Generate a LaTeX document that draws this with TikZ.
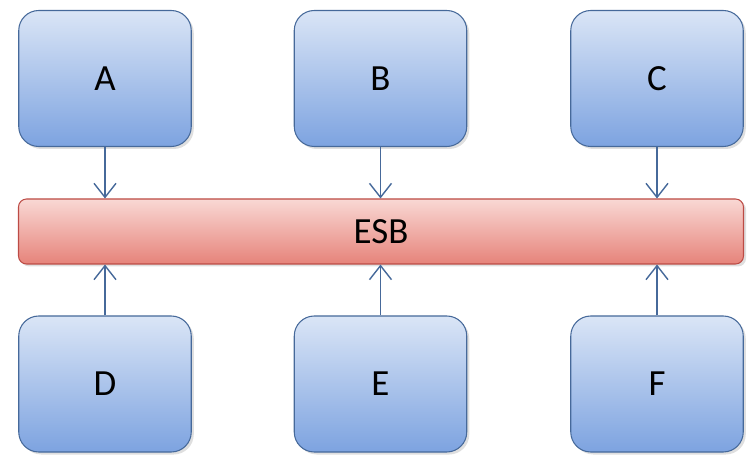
\documentclass[tikz,border=0pt]{standalone}
\usepackage{fontspec}
\setmainfont{Carlito}
\usetikzlibrary{arrows.meta}
\usetikzlibrary{shadows}
\definecolor{systemtop}{HTML}{DAE5F6}
\definecolor{systembottom}{HTML}{7DA3E0}
\definecolor{systemline}{HTML}{46699A}
\definecolor{bustop}{HTML}{F9D8D4}
\definecolor{busbottom}{HTML}{E6837A}
\definecolor{busline}{HTML}{BC4B45}
\definecolor{linkline}{HTML}{46699A}
\tikzstyle{system}=[draw=systemline, semithick, rounded corners=0.4cm,
  top color=systemtop, bottom color=systembottom,
  minimum width=3.45cm, minimum height=2.72cm, inner sep=0,
  drop shadow={opacity=0.25, shadow xshift=0.05cm, shadow yshift=-0.05cm},
  font=\fontsize{21}{25}\selectfont]
\tikzstyle{bus}=[draw=busline, semithick, rounded corners=0.16cm,
  top color=bustop, bottom color=busbottom,
  minimum width=14.5cm, minimum height=1.3cm, inner sep=0,
  drop shadow={opacity=0.25, shadow xshift=0.05cm, shadow yshift=-0.05cm},
  font=\fontsize{21}{25}\selectfont]
\tikzstyle{link}=[draw=linkline, line width=0.8pt,
  -{Straight Barb[length=0.28cm, width=0.44cm]}]

\begin{document}
\begin{tikzpicture}
  \useasboundingbox (0, 0) rectangle (15.1, -9.42);

  \node[bus] (ESB) at (7.62, -4.63) {ESB};

  \node[system] (A) at (2.1, -1.57) {A};
  \node[system] (B) at (7.61, -1.57) {B};
  \node[system] (C) at (13.14, -1.57) {C};

  \node[system] (D) at (2.1, -7.68) {D};
  \node[system] (E) at (7.61, -7.68) {E};
  \node[system] (F) at (13.14, -7.68) {F};

  \draw[link] (A.south) to (A.south |- ESB.north);
  \draw[link] (B.south) to (B.south |- ESB.north);
  \draw[link] (C.south) to (C.south |- ESB.north);

  \draw[link] (D.north) to (D.north |- ESB.south);
  \draw[link] (E.north) to (E.north |- ESB.south);
  \draw[link] (F.north) to (F.north |- ESB.south);
\end{tikzpicture}
\end{document}
